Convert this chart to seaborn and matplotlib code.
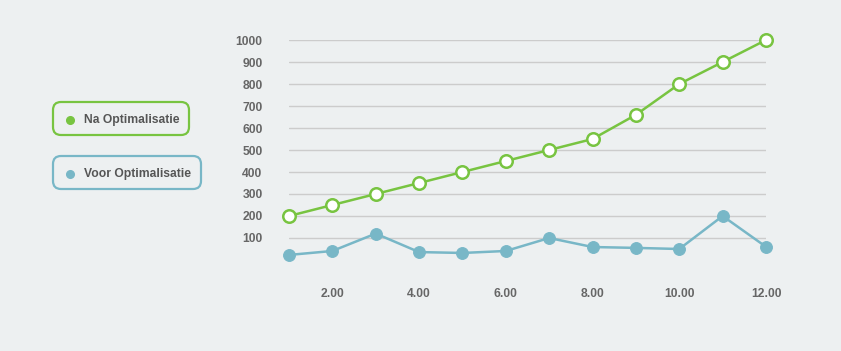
import matplotlib
matplotlib.use("Agg")
import matplotlib.pyplot as plt
from matplotlib.patches import FancyBboxPatch
import seaborn as sns
import pandas as pd

x_values = [1, 2, 3, 4, 5, 6, 7, 8, 9, 10, 11, 12]
na_optimalisatie = [200, 250, 300, 350, 400, 450, 500, 550, 660, 800, 900, 1000]
voor_optimalisatie = [23, 41, 120, 36, 32, 41, 100, 59, 55, 50, 200, 60]
y_ticks = [100, 200, 300, 400, 500, 600, 700, 800, 900, 1000]
x_ticks = [2, 4, 6, 8, 10, 12]
series_names = ["Na Optimalisatie", "Voor Optimalisatie"]

BG = "#edf0f1"
GREEN = "#78c441"
BLUE = "#78b7c7"
TXT = "#666666"

sns.set_theme(style="white")
plt.rcParams['font.family'] = ['Liberation Sans', 'DejaVu Sans']

fig = plt.figure(figsize=(8.41, 3.51), dpi=100)
fig.patch.set_facecolor(BG)
ax = fig.add_axes([289/841, 91/351, 477/841, 220/351])
ax.set_facecolor(BG)

df = pd.DataFrame({"x": x_values, "na": na_optimalisatie, "voor": voor_optimalisatie})

sns.lineplot(data=df, x="x", y="voor", ax=ax, color=BLUE, linewidth=1.8,
             marker="o", markersize=8.5, markerfacecolor=BLUE, markeredgecolor=BLUE,
             clip_on=False, zorder=3)
sns.lineplot(data=df, x="x", y="na", ax=ax, color=GREEN, linewidth=1.8,
             marker="o", markersize=9, markerfacecolor="white", markeredgecolor=GREEN,
             markeredgewidth=1.8, clip_on=False, zorder=4)

ax.set_xlim(1, 12)
ax.set_ylim(0, 1000)
ax.set_yticks(y_ticks)
ax.set_xticks(x_ticks)
ax.set_xticklabels([f"{v:.2f}" for v in x_ticks])
ax.set_yticklabels([str(v) for v in y_ticks])
ax.set_xlabel("")
ax.set_ylabel("")
ax.grid(axis="y", color="#cccccc", linewidth=1)
ax.grid(axis="x", visible=False)
for s in ax.spines.values():
    s.set_visible(False)
ax.tick_params(axis="y", length=0, pad=19, labelsize=8.7, labelcolor=TXT)
ax.tick_params(axis="x", length=0, pad=20, labelsize=8.7, labelcolor=TXT)
for lab in ax.get_xticklabels() + ax.get_yticklabels():
    lab.set_fontweight("bold")

# custom legend boxes in pixel coordinates
lax = fig.add_axes([0, 0, 1, 1], zorder=5)
lax.set_xlim(0, 841)
lax.set_ylim(351, 0)
lax.axis("off")
lax.patch.set_alpha(0)

boxes = [(53, 102, 136, 33, GREEN, series_names[0]),
         (53, 156, 148, 33, BLUE, series_names[1])]
for bx, by, bw, bh, col, name in boxes:
    p = FancyBboxPatch((bx, by), bw, bh, boxstyle="round,pad=0,rounding_size=8",
                       facecolor="none", edgecolor=col, linewidth=1.6)
    lax.add_patch(p)
    lax.plot([70], [by + bh/2 + 1], marker="o", markersize=5.5, color=col)
    lax.text(84, by + bh/2 + 2, name, fontsize=8.7, fontweight="bold", color="#555555",
             va="center", ha="left")

fig.savefig("out.png", dpi=100, facecolor=BG)
